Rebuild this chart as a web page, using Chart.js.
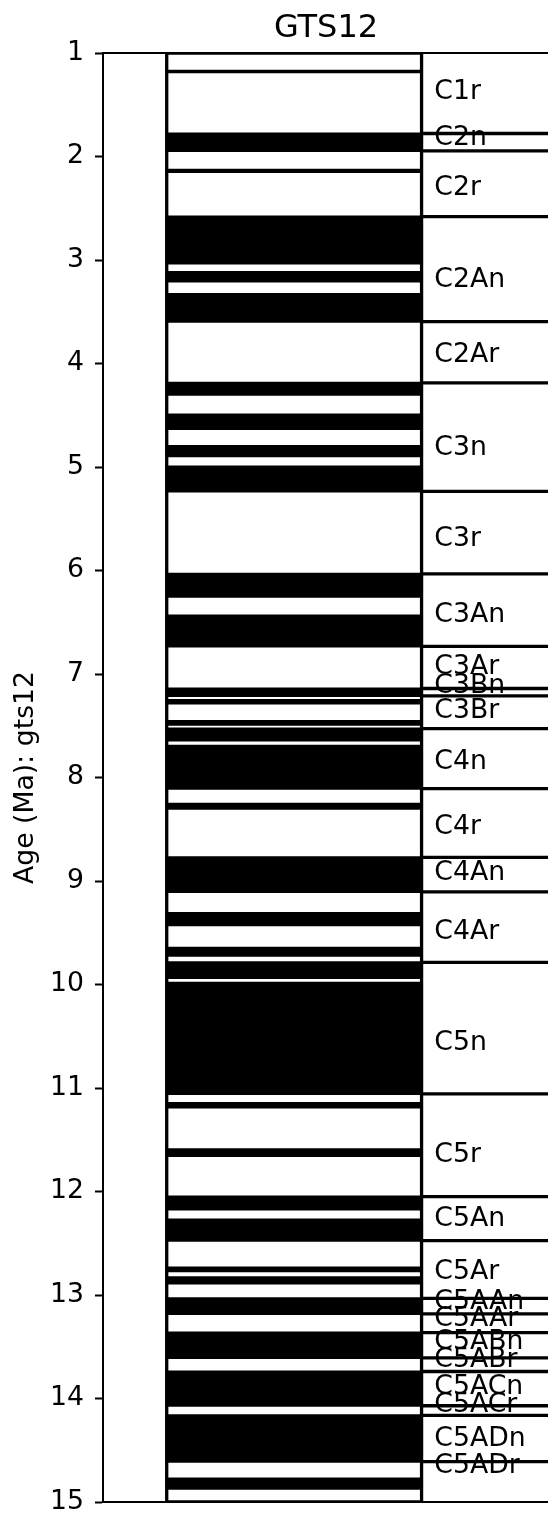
<!DOCTYPE html>
<html>
<head>
<meta charset="utf-8">
<title>GTS12</title>
<script src="https://cdn.jsdelivr.net/npm/chart.js@4"></script>
<style>
  html, body { margin: 0; padding: 0; background: #ffffff; overflow: hidden; }
  #wrap { width: 549px; height: 1518px; }
</style>
</head>
<body>
<div id="wrap"><canvas id="ts" width="549" height="1518"></canvas></div>
<script>
// Geomagnetic polarity timescale GTS12, shown between 1 and 15 Ma.
const AGE_MIN = 1;
const AGE_MAX = 15;
const ageTicks = [1, 2, 3, 4, 5, 6, 7, 8, 9, 10, 11, 12, 13, 14, 15];

// Normal-polarity intervals: top (young) and base (old) ages in Ma
const normalTops = [1.173, 1.778, 2.128, 2.581, 3.116, 3.330, 4.187, 4.493, 4.799, 4.997,
  6.033, 6.436, 7.140, 7.251, 7.454, 7.528, 7.695, 8.254, 8.771, 9.311,
  9.647, 9.786, 9.984, 11.146, 11.592, 12.049, 12.272, 12.735, 12.829, 13.032,
  13.363, 13.739, 14.163, 14.775];
const normalBases = [1.185, 1.945, 2.148, 3.032, 3.207, 3.596, 4.300, 4.631, 4.896, 5.235,
  6.252, 6.733, 7.212, 7.285, 7.489, 7.642, 8.108, 8.300, 9.105, 9.426,
  9.721, 9.937, 11.056, 11.188, 11.657, 12.174, 12.474, 12.770, 12.887, 13.183,
  13.608, 14.070, 14.609, 14.870];

// Chron names and the age (Ma) at the top of each chron
const chronNames = ['C1r', 'C2n', 'C2r', 'C2An', 'C2Ar', 'C3n', 'C3r', 'C3An', 'C3Ar', 'C3Bn',
  'C3Br', 'C4n', 'C4r', 'C4An', 'C4Ar', 'C5n', 'C5r', 'C5An', 'C5Ar', 'C5AAn',
  'C5AAr', 'C5ABn', 'C5ABr', 'C5ACn', 'C5ACr', 'C5ADn', 'C5ADr', 'C5Bn', 'C5Br'];
const chronTops = [0.781, 1.778, 1.945, 2.581, 3.596, 4.187, 5.235, 6.033, 6.733, 7.140,
  7.212, 7.528, 8.108, 8.771, 9.105, 9.786, 11.056, 12.049, 12.474, 13.032,
  13.183, 13.363, 13.608, 13.739, 14.070, 14.163, 14.609, 14.775, 15.160];

// Horizontal layout in axis units: the polarity column spans 0..1,
// chron ticks run from 1 to 1.5 and names start at 1.05.
const X_MIN = -0.25, X_MAX = 1.5;
const COL_LEFT = 0, COL_RIGHT = 1, LABEL_X = 1.05;

const FONT = '"DejaVu Sans", "Liberation Sans", sans-serif';
Chart.defaults.font.family = FONT;
Chart.defaults.color = '#000000';

// Each chron name sits two thirds of the way down its interval
function labelAge(k) {
  const next = chronTops[k + 1];
  return next - (next - chronTops[k]) / 3;
}
const shownChrons = [];
for (let k = 0; k < chronNames.length - 1; k++) {
  const d = labelAge(k);
  if (d >= AGE_MIN && d < AGE_MAX) shownChrons.push(k);
}

const datasets = [];

// Column outline
datasets.push({
  type: 'line',
  label: 'outline',
  data: [
    { x: COL_LEFT, y: AGE_MIN }, { x: COL_RIGHT, y: AGE_MIN },
    { x: COL_RIGHT, y: AGE_MAX }, { x: COL_LEFT, y: AGE_MAX },
    { x: COL_LEFT, y: AGE_MIN }
  ],
  xAxisID: 'x', yAxisID: 'y',
  borderColor: '#000000', borderWidth: 3.3,
  pointRadius: 0, fill: false, tension: 0,
  clip: 0, order: 1
});

// Chron boundary ticks to the right of the column
shownChrons.forEach(k => {
  const a = chronTops[k];
  if (a < AGE_MIN || a > AGE_MAX) return;
  datasets.push({
    type: 'line',
    label: chronNames[k] + ' top',
    data: [{ x: COL_RIGHT, y: a }, { x: X_MAX, y: a }],
    xAxisID: 'x', yAxisID: 'y',
    borderColor: '#000000', borderWidth: 3.3,
    pointRadius: 0, fill: false, tension: 0,
    clip: 0, order: 1
  });
});

// Normal polarity bands (black)
datasets.push({
  type: 'bar',
  label: 'normal',
  data: normalTops.map((t, i) => ({ x: (COL_LEFT + COL_RIGHT) / 2, y: [t, normalBases[i]] })),
  xAxisID: 'x', yAxisID: 'y',
  backgroundColor: '#000000',
  borderWidth: 0,
  inflateAmount: 1.1,
  categoryPercentage: 1,
  barPercentage: (COL_RIGHT - COL_LEFT) / (X_MAX - X_MIN),
  order: 3
});

// Chron names next to the boundary ticks
const chronLabelPlugin = {
  id: 'chronLabels',
  afterDatasetsDraw(chart) {
    const xs = chart.scales.x, ys = chart.scales.y, ctx = chart.ctx;
    ctx.save();
    ctx.font = '26.7px ' + FONT;
    ctx.fillStyle = '#000000';
    ctx.textAlign = 'left';
    ctx.textBaseline = 'alphabetic';
    shownChrons.forEach(k => {
      ctx.fillText(chronNames[k], xs.getPixelForValue(LABEL_X), ys.getPixelForValue(labelAge(k)));
    });
    ctx.restore();
  }
};

new Chart(document.getElementById('ts'), {
  type: 'bar',
  data: { datasets },
  plugins: [chronLabelPlugin],
  options: {
    responsive: false,
    animation: false,
    events: [],
    layout: { padding: 0 },
    plugins: {
      legend: { display: false },
      tooltip: { enabled: false },
      title: { display: false }
    },
    scales: {
      x: {
        type: 'linear', position: 'bottom',
        min: X_MIN, max: X_MAX, offset: false,
        afterBuildTicks: s => { s.ticks = [{ value: X_MIN }, { value: X_MAX }]; },
        ticks: { display: false },
        grid: { display: false },
        border: { display: true, color: '#000000', width: 2 },
        afterFit: s => { s.height = 16; }
      },
      xTop: {
        type: 'linear', position: 'top',
        min: X_MIN, max: X_MAX, offset: false,
        ticks: { display: false },
        grid: { display: false },
        border: { display: true, color: '#000000', width: 2 },
        title: {
          display: true, text: 'GTS12', color: '#000000',
          font: { size: 32, family: FONT },
          padding: { top: 9.7, bottom: 0 }
        },
        afterFit: s => { s.height = 53; }
      },
      y: {
        type: 'linear', position: 'left',
        min: AGE_MIN, max: AGE_MAX, reverse: true,
        afterBuildTicks: s => { s.ticks = ageTicks.map(v => ({ value: v })); },
        ticks: {
          color: '#000000', padding: 11,
          font: { size: 26.7, family: FONT },
          callback: v => String(v)
        },
        grid: {
          display: true, drawOnChartArea: false, drawTicks: true,
          tickLength: 8, tickWidth: 2, tickColor: '#000000'
        },
        border: { display: true, color: '#000000', width: 2 },
        title: {
          display: true, text: 'Age (Ma): gts12', color: '#000000',
          font: { size: 26.7, family: FONT },
          padding: { top: 10.5, bottom: 0 }
        },
        afterFit: s => { s.width = 103; s.paddingTop = 0; s.paddingBottom = 0; }
      }
    }
  }
});
</script>
</body>
</html>
